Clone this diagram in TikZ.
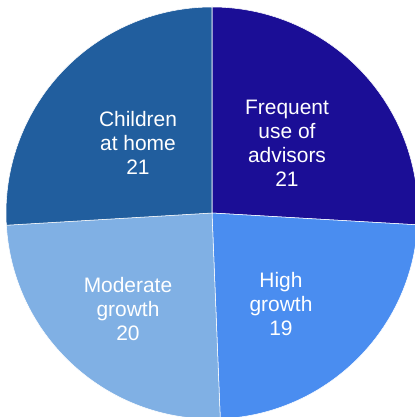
\documentclass[tikz,border=0pt]{standalone}
\usepackage{fontspec}
\setmainfont{Liberation Sans}
\definecolor{advisors}{RGB}{27,14,150}
\definecolor{children}{RGB}{33,94,158}
\definecolor{moderate}{RGB}{128,176,228}
\definecolor{high}{RGB}{74,141,240}
\begin{document}
\begin{tikzpicture}[
			x=0.75pt, y=0.75pt,
			slice/.style={draw=white, line width=0.4pt},
			lbl/.style={text=white, align=center, font=\fontsize{15.7}{18}\selectfont}
		]
		\useasboundingbox (-212,-204) rectangle (202,213);
		\filldraw[slice, fill=advisors] (0,0) -- (90:206) arc (90:-3.3:206) -- cycle;
		\filldraw[slice, fill=high] (0,0) -- (-3.3:206) arc (-3.3:-87.7:206) -- cycle;
		\filldraw[slice, fill=moderate] (0,0) -- (-87.7:206) arc (-87.7:-176.6:206) -- cycle;
		\filldraw[slice, fill=children] (0,0) -- (-176.6:206) arc (-176.6:-270:206) -- cycle;

		\node[lbl] (advisors) at (75,70) {Frequent\\use of\\advisors\\21};
		\node[lbl] (children) at (-74,70) {Children\\at home\\21};
		\node[lbl] (moderate) at (-84,-96) {Moderate\\growth\\20};
		\node[lbl] (high) at (69,-91) {High\\growth\\19};
	\end{tikzpicture}
\end{document}
